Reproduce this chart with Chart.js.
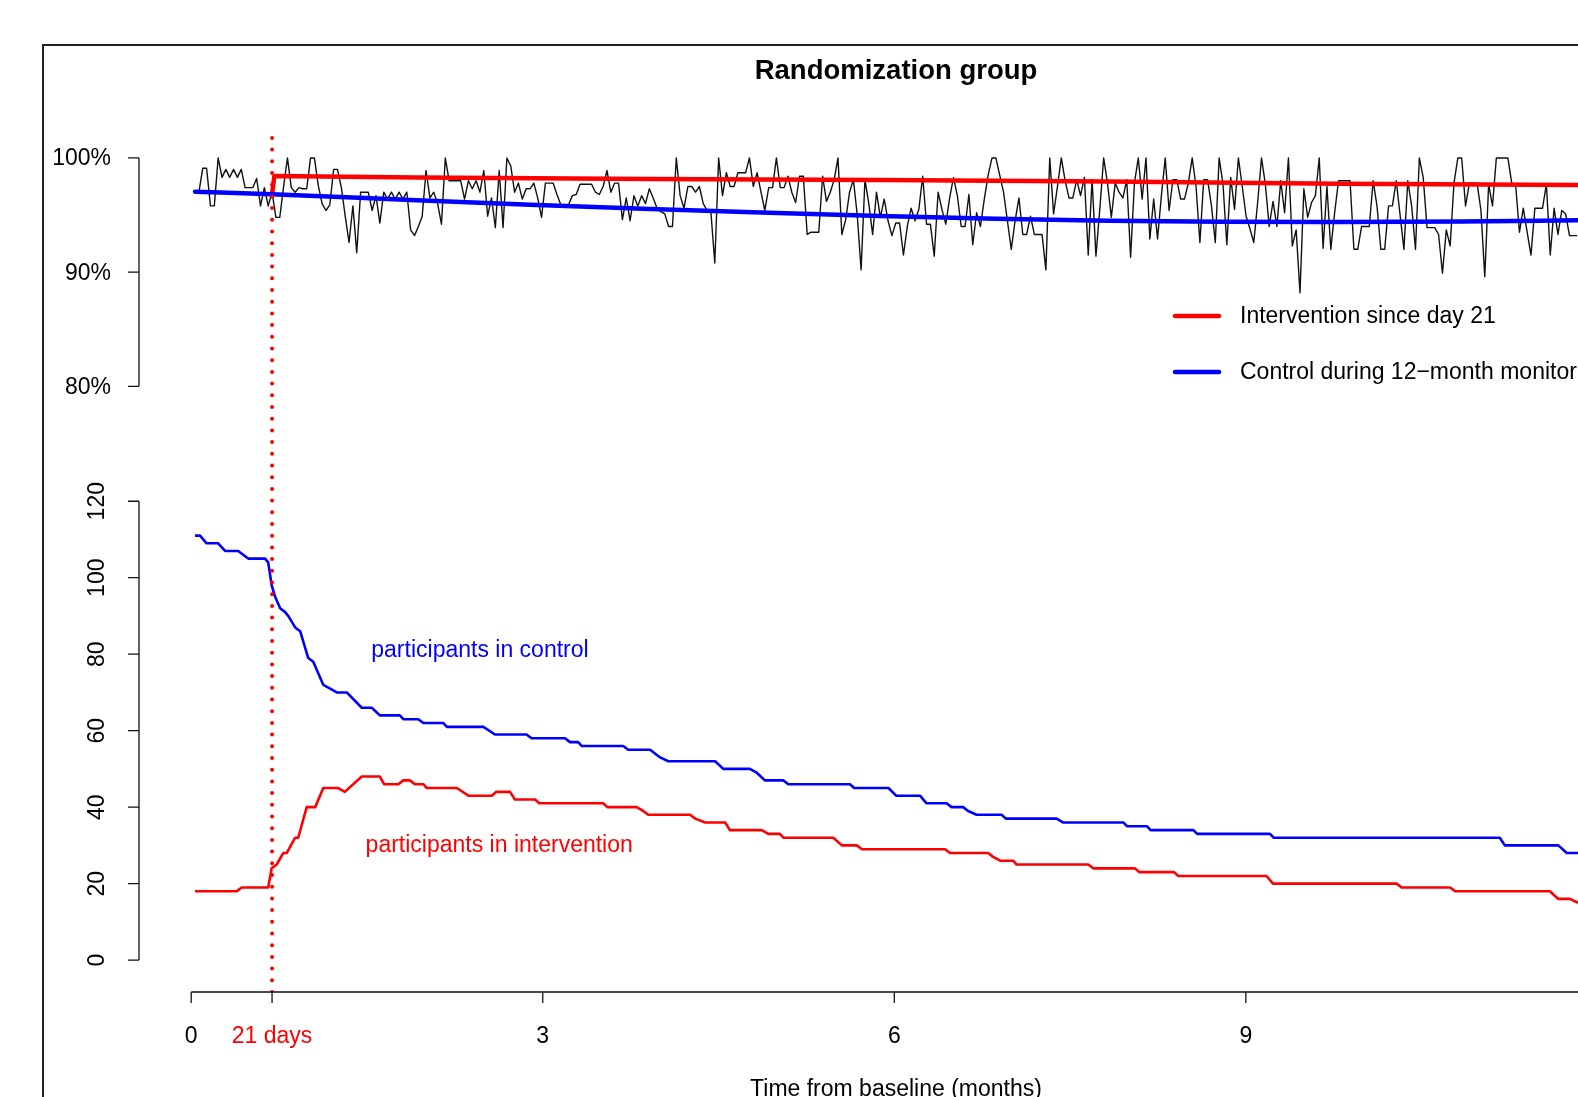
<!DOCTYPE html>
<html>
<head>
<meta charset="utf-8">
<script src="https://cdn.jsdelivr.net/npm/chart.js@4.4.1/dist/chart.umd.min.js"></script>
<style>
  html, body { margin: 0; padding: 0; background: #fff; overflow: hidden; }
  canvas { display: block; }
</style>
</head>
<body>
<canvas id="myChart" width="1578" height="1097"></canvas>
<script>
// daily adherence (%), starting at day 2 after baseline
var adherenceStartDay = 2
var adherencePct = [
  97.0, 99.1, 99.1, 95.8, 95.8, 100, 98.3, 99.0, 98.3, 99.0,
  98.3, 99.0, 97.4, 97.4, 97.4, 98.2, 95.8, 97.4, 95.8, 97.0,
  94.8, 94.8, 97.5, 100,
  97.4, 97.0, 97.4, 97.3, 97.3, 100, 100, 97.6, 96.0, 95.4,
  95.9, 99.0, 99.0, 97.4, 94.9, 92.6, 95.8, 91.7, 97.0, 97.0,
  97.0, 95.4, 96.7, 94.3, 97.0, 96.4, 97.0, 96.4, 97.0, 96.4,
  97.0, 93.7, 93.2, 94.0, 94.9, 98.9, 96.5, 97.0, 96.0, 94.2,
  100, 98.0, 98.0, 98.0, 98.0, 96.4, 98.0, 97.3, 98.0, 97.0,
  98.9, 94.9, 96.5, 93.9, 98.9, 93.9, 100, 99.3, 97.0, 97.8,
  96.4, 97.3, 97.3, 97.8, 96.5, 94.8, 97.8, 97.8, 97.8, 96.8,
  95.9, 95.9, 95.9, 96.7, 96.8, 97.7, 97.7, 97.7, 97.7, 97.0,
  96.8, 97.5, 98.9, 97.0, 97.8, 97.8, 94.6, 96.5, 94.5, 96.7,
  95.8, 96.7, 96.0, 97.3, 96.5, 95.6, 95.3, 95.1, 94.0, 94.0,
  100, 96.7, 95.6, 97.5, 97.5, 97.0, 97.5, 96.0, 95.4, 95.2,
  90.8, 100, 96.7, 98.7, 97.5, 97.5, 98.7, 98.7, 98.7, 100,
  97.5, 98.7, 97.0, 95.4, 97.4, 97.4, 100, 97.4, 97.4, 98.4,
  97.0, 96.1, 98.4, 98.4, 93.3,
  93.5, 93.5, 93.5, 98.4, 96.2, 97.0, 98.1, 100, 93.3, 94.6,
  97.0, 98.1, 95.0, 90.2, 98.1, 96.0, 93.3, 97.0, 94.8, 96.4,
  94.5, 93.2, 94.3, 94.3, 91.5, 94.0, 95.6, 94.5, 95.5, 98.4,
  94.2, 94.2, 91.4, 97.0, 95.5, 94.2, 96.5, 98.3, 96.7, 94.0,
  94.0, 96.8, 92.4, 95.2, 94.0, 96.4, 98.5, 100, 100, 98.5,
  97.0, 94.5, 92.0, 94.5, 96.5, 93.3, 93.3, 94.9, 93.3, 93.3,
  93.3, 90.2, 100, 95.1, 97.5, 100, 98.0, 96.5, 96.5, 98.1,
  96.7, 98.3, 91.5, 98.1, 91.4, 95.5, 100, 97.8, 94.8, 97.8,
  97.0, 96.5, 98.1, 91.3, 97.8, 100, 96.4, 100, 92.9, 96.4,
  92.9, 96.7, 100, 95.4, 98.1, 98.1, 96.4, 96.4, 97.8, 100,
  97.5, 92.6, 98.1, 98.1, 95.8, 92.6, 100, 97.7, 92.4, 98.3,
  95.5, 100, 97.5, 94.9, 93.8, 92.6, 96.1, 100, 97.7, 94.0,
  96.2, 94.0, 98.0, 95.2, 100, 92.3, 93.7, 88.2, 97.3, 94.8,
  96.1, 96.7, 100, 92.1, 97.5,
  92.0, 95.2, 98.0, 98.0, 98.0, 98.0, 92.0, 92.0, 94.0, 94.0,
  94.0, 98.0, 95.8, 92.0, 92.0, 95.8, 95.8, 98.0, 95.0, 92.0,
  98.0, 95.8, 92.0, 100, 98.3, 93.9, 93.9, 93.9, 93.3, 89.9,
  93.7, 92.3, 97.8, 100, 100, 95.8, 97.8, 97.8, 97.8, 95.4,
  89.6, 97.7, 95.8, 100, 100, 100, 100, 97.8, 97.7, 93.5,
  95.6, 93.5, 91.5, 95.6, 95.6, 95.6, 97.7, 91.5, 95.6, 93.3,
  95.4, 95.1, 93.2, 93.2, 93.2
]

// smoothed adherence per group (%)
var interventionTrendDays = [21, 21.6, 59, 119, 179, 238, 298, 361]
var interventionTrendPct  = [96.82, 98.42, 98.28, 98.16, 98.07, 97.93, 97.75, 97.64]
var controlTrendDays = [1, 21, 57, 88, 119, 150, 179, 209, 238, 268, 298, 330, 361]
var controlTrendPct  = [97.05, 96.82, 96.32, 95.9, 95.54, 95.2, 94.92, 94.68, 94.5, 94.42, 94.4, 94.44, 94.55]

// number of participants over time
var controlDays = [1, 2.3, 4, 7, 8.8, 12.2, 13.5, 14.8, 19.2, 20, 20.9, 21.8, 23.1, 24.4, 25.2, 27, 28.3,
  30.4, 31.7, 34.3, 36.1, 37.8, 40.4, 44.3, 46.9, 49, 54.2, 55.1, 59, 60.3, 65.5, 66.4, 75.9, 78.9,
  87.1, 88.4, 97.1, 98.4, 100.5, 101.4, 112.2, 113.5, 119.2, 121.8, 123.9, 136.1, 138.2, 145.1,
  146.9, 149, 153.8, 155.1, 171.1, 172.2, 181.1, 183.1, 189.3, 191, 196.2, 197.5, 200.5, 201.8,
  204, 210.5, 211.6, 224.8, 226.4, 242.1, 243.1, 248.3, 249.2, 260.3, 261.3, 280.2, 281.2,
  339.9, 341.2, 355.1, 357.3, 362]
var controlCounts = [111, 111, 109, 109, 107, 107, 106, 105, 105, 104, 98, 95, 92, 91, 90, 87, 86,
  79, 78, 72, 71, 70, 70, 66, 66, 64, 64, 63, 63, 62, 62, 61, 61, 59,
  59, 58, 58, 57, 57, 56, 56, 55, 55, 53, 52, 52, 50, 50,
  49, 47, 47, 46, 46, 45, 45, 43, 43, 41, 41, 40, 40, 39,
  38, 38, 37, 37, 36, 36, 35, 35, 34, 34, 33, 33, 32,
  32, 30, 30, 28, 28]
var interventionDays = [1, 11.8, 13.1, 20, 20.9, 22.2, 23.9, 24.8, 27, 27.8, 30, 32.2, 34.3, 38.2,
  39.9, 44.3, 49, 50.1, 53.8, 55.1, 56.8, 58.1, 60.3, 61.2, 69, 72, 78.1, 79.2, 82.8, 84.1, 89.3,
  90.4, 107, 108.1, 115.7, 117.4, 118.7, 129.6, 130.9, 133.5, 138.7, 139.9, 148.2, 149.9, 152.9,
  153.8, 166.8, 169, 172.9, 174.2, 195.8, 197.1, 207, 208.3, 210.1, 213.5, 214.4, 233, 234.3,
  245.1, 246.3, 255.3, 256.4, 279.3, 281, 313.1, 314.4, 327, 328.3, 352.9, 355.1, 358.1, 360.2]
var interventionCounts = [18, 18, 19, 19, 24, 25, 28, 28, 32, 32, 40, 40, 45, 45,
  44, 48, 48, 46, 46, 47, 47, 46, 46, 45, 45, 43, 43, 44, 44, 42, 42,
  41, 41, 40, 40, 39, 38, 38, 37, 36, 36, 34, 34, 33, 33,
  32, 32, 30, 30, 29, 29, 28, 28, 27, 26, 26, 25, 25, 24,
  24, 23, 23, 22, 22, 20, 20, 19, 19, 18, 18, 16, 16, 15]

var cutoffDay = 21
var xTickDays = [0, 21, 91.3125, 182.625, 273.9375, 365.25]
var xTickLabels = ['0', '21 days', '3', '6', '9', '12']
var pctTicks = [80, 90, 100]
var pctTickLabels = ['80%', '90%', '100%']
var countTicks = [0, 20, 40, 60, 80, 100, 120]

var FONT = '"Liberation Sans", Arial, sans-serif'

function pairs(xs, ys) {
  return xs.map(function (x, i) { return { x: x, y: ys[i] } })
}

var rAxes = {
  id: 'rAxes',
  afterDraw: function (chart) {
    var ctx = chart.ctx
    var area = chart.chartArea
    var x = chart.scales.x, yPct = chart.scales.yPct, yCount = chart.scales.yCount
    ctx.save()

    // outer box
    ctx.strokeStyle = '#222'
    ctx.lineWidth = 2
    ctx.strokeRect(43, 45, 1700, 1200)

    // title
    ctx.fillStyle = '#000'
    ctx.textBaseline = 'middle'
    ctx.textAlign = 'center'
    ctx.font = 'bold 27.5px ' + FONT
    ctx.fillText('Randomization group', 896, 71)

    ctx.strokeStyle = '#111'
    ctx.lineWidth = 1.3
    ctx.font = '23px ' + FONT
    var ax = area.left

    // percent axis
    ctx.beginPath()
    ctx.moveTo(ax, yPct.getPixelForValue(pctTicks[0]))
    ctx.lineTo(ax, yPct.getPixelForValue(pctTicks[pctTicks.length - 1]))
    pctTicks.forEach(function (t) {
      var py = yPct.getPixelForValue(t)
      ctx.moveTo(ax, py); ctx.lineTo(ax - 11, py)
    })
    ctx.stroke()
    ctx.textAlign = 'right'
    pctTicks.forEach(function (t, i) {
      ctx.fillText(pctTickLabels[i], ax - 28, yPct.getPixelForValue(t) + 1)
    })

    // count axis
    ctx.beginPath()
    ctx.moveTo(ax, yCount.getPixelForValue(countTicks[0]))
    ctx.lineTo(ax, yCount.getPixelForValue(countTicks[countTicks.length - 1]))
    countTicks.forEach(function (t) {
      var py = yCount.getPixelForValue(t)
      ctx.moveTo(ax, py); ctx.lineTo(ax - 11, py)
    })
    ctx.stroke()
    ctx.textAlign = 'center'
    countTicks.forEach(function (t) {
      ctx.save()
      ctx.translate(ax - 41, yCount.getPixelForValue(t))
      ctx.rotate(-Math.PI / 2)
      ctx.fillText(String(t), 0, 0)
      ctx.restore()
    })

    // x axis
    var by = area.bottom
    ctx.beginPath()
    ctx.moveTo(x.getPixelForValue(xTickDays[0]), by)
    ctx.lineTo(x.getPixelForValue(xTickDays[xTickDays.length - 1]), by)
    xTickDays.forEach(function (t) {
      var px = x.getPixelForValue(t)
      ctx.moveTo(px, by); ctx.lineTo(px, by + 11)
    })
    ctx.stroke()
    xTickDays.forEach(function (t, i) {
      ctx.fillStyle = t === cutoffDay ? '#ff0000' : '#000'
      ctx.fillText(xTickLabels[i], x.getPixelForValue(t), by + 45)
    })
    ctx.fillStyle = '#000'
    ctx.fillText('Time from baseline (months)', 896, by + 98)

    // curve labels
    ctx.fillStyle = '#0000ff'
    ctx.fillText('participants in control', x.getPixelForValue(75), yCount.getPixelForValue(81))
    ctx.fillStyle = '#ff0000'
    ctx.fillText('participants in intervention', x.getPixelForValue(80), yCount.getPixelForValue(30))

    // legend
    var legend = [
      { text: 'Intervention since day 21', color: '#ff0000', y: 316 },
      { text: 'Control during 12\u2212month monitoring', color: '#0000ff', y: 372 }
    ]
    ctx.lineWidth = 4.5
    ctx.lineCap = 'round'
    ctx.textAlign = 'left'
    legend.forEach(function (it) {
      ctx.strokeStyle = it.color
      ctx.beginPath()
      ctx.moveTo(1175, it.y); ctx.lineTo(1219, it.y)
      ctx.stroke()
      ctx.fillStyle = '#000'
      ctx.fillText(it.text, 1240, it.y + 1)
    })
    ctx.restore()
  }
}

var adherencePoints = adherencePct.map(function (v, i) { return { x: adherenceStartDay + i, y: v } })

var myChart = document.getElementById('myChart').getContext('2d')
var chart = new Chart(myChart, {
  type: 'line',
  data: {
    datasets: [
      {
        label: 'cutoff',
        data: [{ x: cutoffDay, y: -8.34 }, { x: cutoffDay, y: 215.77 }],
        yAxisID: 'yCount',
        borderColor: '#ff0000',
        borderWidth: 4,
        borderDash: [0, 11.7],
        borderCapStyle: 'round',
        order: 0
      },
      {
        label: 'Control during 12-month monitoring',
        data: pairs(controlTrendDays, controlTrendPct),
        yAxisID: 'yPct',
        borderColor: '#0000ff',
        borderWidth: 4.5,
        borderCapStyle: 'round',
        cubicInterpolationMode: 'monotone',
        order: 1
      },
      {
        label: 'Intervention since day 21',
        data: pairs(interventionTrendDays, interventionTrendPct),
        yAxisID: 'yPct',
        borderColor: '#ff0000',
        borderWidth: 4.5,
        borderCapStyle: 'round',
        order: 2
      },
      {
        label: 'adherence',
        data: adherencePoints,
        yAxisID: 'yPct',
        borderColor: '#111',
        borderWidth: 1.4,
        order: 5
      },
      {
        label: 'participants in control',
        data: pairs(controlDays, controlCounts),
        yAxisID: 'yCount',
        borderColor: '#0000ff',
        borderWidth: 2.6,
        order: 3
      },
      {
        label: 'participants in intervention',
        data: pairs(interventionDays, interventionCounts),
        yAxisID: 'yCount',
        borderColor: '#ff0000',
        borderWidth: 2.6,
        order: 4
      }
    ]
  },
  options: {
    responsive: false,
    animation: false,
    layout: { padding: { left: 139, right: 0, top: 135, bottom: 105 } },
    elements: { point: { radius: 0 }, line: { tension: 0, borderJoinStyle: 'round' } },
    plugins: { legend: { display: false }, tooltip: { enabled: false }, title: { display: false } },
    scales: {
      x: { type: 'linear', display: false, min: -13.56, max: 360.21 },
      yPct: { type: 'linear', display: false, min: 26.97, max: 102.01 },
      yCount: { type: 'linear', display: false, min: -8.34, max: 215.77 }
    }
  },
  plugins: [rAxes]
})
</script>
</body>
</html>
